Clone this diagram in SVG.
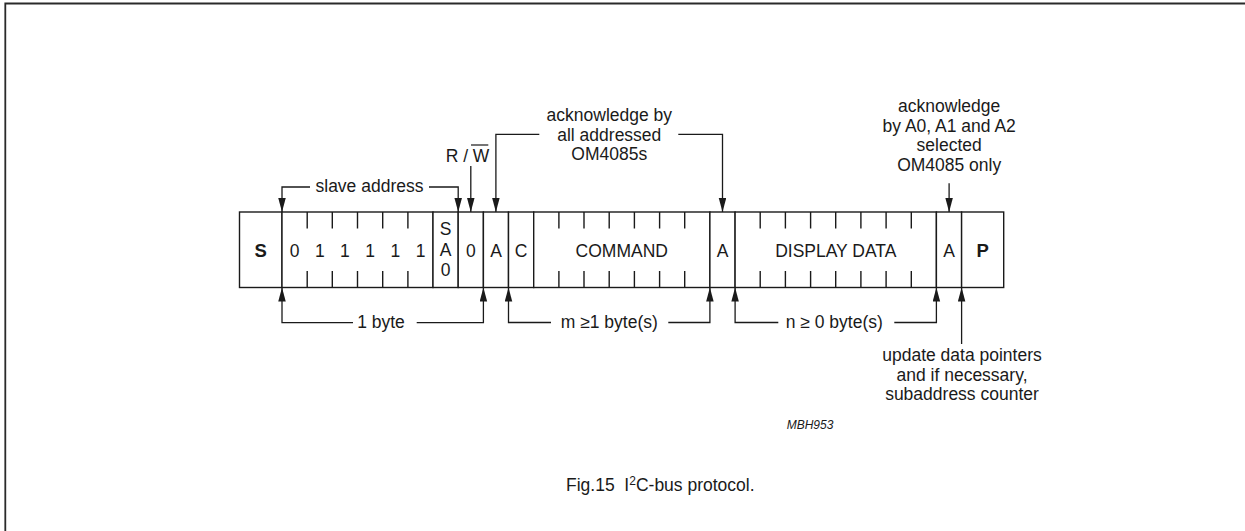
<svg xmlns="http://www.w3.org/2000/svg" width="1245" height="531" viewBox="0 0 1245 531">
<defs>
<style>
.t{font-family:"Liberation Sans",Arial,sans-serif;font-size:17.5px;fill:#1a1a1a;text-anchor:middle}
.b{font-weight:bold;font-size:18.5px}
.f{fill:#fff;stroke:#1a1a1a;stroke-width:1.4}
.k{stroke:#1a1a1a;stroke-width:1.4;fill:none}
.c{stroke:#1a1a1a;stroke-width:1.3;fill:none}
.ca{stroke:#1a1a1a;stroke-width:1.3;fill:none;marker-end:url(#ah)}
</style>
<marker id="ah" markerUnits="userSpaceOnUse" markerWidth="14" markerHeight="8" refX="14" refY="3.75" orient="auto">
<path d="M0,0 L14,3.75 L0,7.5 z" fill="#1a1a1a"/>
</marker>
</defs>
<rect width="1245" height="531" fill="#fff"/>
<path d="M5.3,531 V3.5 H1245" fill="none" stroke="#2a2a2a" stroke-width="1.8"/>

<g id="field-S"><rect class="f" x="239.5" y="212" width="42.5" height="75.5"/><text class="t b" x="260.7" y="257">S</text></g>
<g id="field-address">
<rect class="f" x="282" y="212" width="151" height="75.5"/>
<path class="k" d="M307.2,212V228.5M332.3,212V228.5M357.5,212V228.5M382.7,212V228.5M407.9,212V228.5M307.2,271V287.5M332.3,271V287.5M357.5,271V287.5M382.7,271V287.5M407.9,271V287.5"/>
<text class="t" x="294.6" y="256.5">0</text><text class="t" x="319.8" y="256.5">1</text><text class="t" x="344.9" y="256.5">1</text><text class="t" x="370.1" y="256.5">1</text><text class="t" x="395.3" y="256.5">1</text><text class="t" x="420.5" y="256.5">1</text>
</g>
<g id="field-SA0"><rect class="f" x="433" y="212" width="25.2" height="75.5"/><text class="t" x="445.6" y="235">S</text><text class="t" x="445.6" y="256">A</text><text class="t" x="445.6" y="275.5">0</text></g>
<g id="field-RW"><rect class="f" x="458.2" y="212" width="25.2" height="75.5"/><text class="t" x="470.8" y="256.5">0</text></g>
<g id="field-A1"><rect class="f" x="483.4" y="212" width="25.1" height="75.5"/><text class="t" x="496" y="256.5">A</text></g>
<g id="field-C"><rect class="f" x="508.5" y="212" width="25.2" height="75.5"/><text class="t" x="521.1" y="256.5">C</text></g>
<g id="field-command">
<rect class="f" x="533.7" y="212" width="176.2" height="75.5"/>
<path class="k" d="M558.9,212V228.5M584,212V228.5M609.2,212V228.5M634.4,212V228.5M659.6,212V228.5M684.7,212V228.5M558.9,271V287.5M584,271V287.5M609.2,271V287.5M634.4,271V287.5M659.6,271V287.5M684.7,271V287.5"/>
<text class="t" x="621.8" y="256.5">COMMAND</text>
</g>
<g id="field-A2"><rect class="f" x="709.9" y="212" width="25.2" height="75.5"/><text class="t" x="722.5" y="256.5">A</text></g>
<g id="field-data">
<rect class="f" x="735.1" y="212" width="201.3" height="75.5"/>
<path class="k" d="M760.2,212V228.5M785.4,212V228.5M810.6,212V228.5M835.7,212V228.5M860.9,212V228.5M886.1,212V228.5M911.3,212V228.5M760.2,271V287.5M785.4,271V287.5M810.6,271V287.5M835.7,271V287.5M860.9,271V287.5M886.1,271V287.5M911.3,271V287.5"/>
<text class="t" x="835.8" y="256.5">DISPLAY DATA</text>
</g>
<g id="field-A3"><rect class="f" x="936.4" y="212" width="25.2" height="75.5"/><text class="t" x="949" y="256.5">A</text></g>
<g id="field-P"><rect class="f" x="961.6" y="212" width="42.1" height="75.5"/><text class="t b" x="982.6" y="257">P</text></g>

<g id="connectors">
<path class="ca" d="M310,187 H282 V212"/>
<path class="ca" d="M429,187 H458.2 V212"/>
<path class="ca" d="M470.8,166 V212"/>
<path class="ca" d="M539.3,134.3 H495.9 V212"/>
<path class="ca" d="M678.3,134.3 H722.5 V212"/>
<path class="ca" d="M949.1,183.3 V212"/>
<path class="ca" d="M353,322.7 H282 V287.5"/>
<path class="ca" d="M416.7,322.7 H483.4 V287.5"/>
<path class="ca" d="M551,322.5 H508.5 V287.5"/>
<path class="ca" d="M668.3,322.5 H709.9 V287.5"/>
<path class="ca" d="M778.3,322.5 H735.1 V287.5"/>
<path class="ca" d="M894.3,322.5 H936.4 V287.5"/>
<path class="ca" d="M961.6,344 V287.5"/>
</g>

<g id="labels">
<text class="t" x="369.5" y="191.5">slave address</text>
<text class="t" x="467.5" y="161.5">R / W</text>
<line x1="471" y1="145" x2="488.3" y2="145" stroke="#1a1a1a" stroke-width="1.2"/>
<text class="t" x="609.3" y="121">acknowledge by</text>
<text class="t" x="609.3" y="140.5">all addressed</text>
<text class="t" x="609.3" y="160">OM4085s</text>
<text class="t" x="949.2" y="112">acknowledge</text>
<text class="t" x="949.2" y="131.5">by A0, A1 and A2</text>
<text class="t" x="949.2" y="151">selected</text>
<text class="t" x="949.2" y="170.5">OM4085 only</text>
<text class="t" x="381" y="328">1 byte</text>
<text class="t" x="609.3" y="328">m ≥1 byte(s)</text>
<text class="t" x="834.3" y="328">n ≥ 0 byte(s)</text>
<text class="t" x="962" y="361">update data pointers</text>
<text class="t" x="962" y="380.5">and if necessary,</text>
<text class="t" x="962" y="400">subaddress counter</text>
<text class="t" x="810" y="429" style="font-size:12px;font-style:italic">MBH953</text>
<text class="t" x="566" y="490.5" style="font-size:17.5px;text-anchor:start" xml:space="preserve">Fig.15  I<tspan dy="-6" style="font-size:12px">2</tspan><tspan dy="6">C-bus protocol.</tspan></text>
</g>
</svg>
